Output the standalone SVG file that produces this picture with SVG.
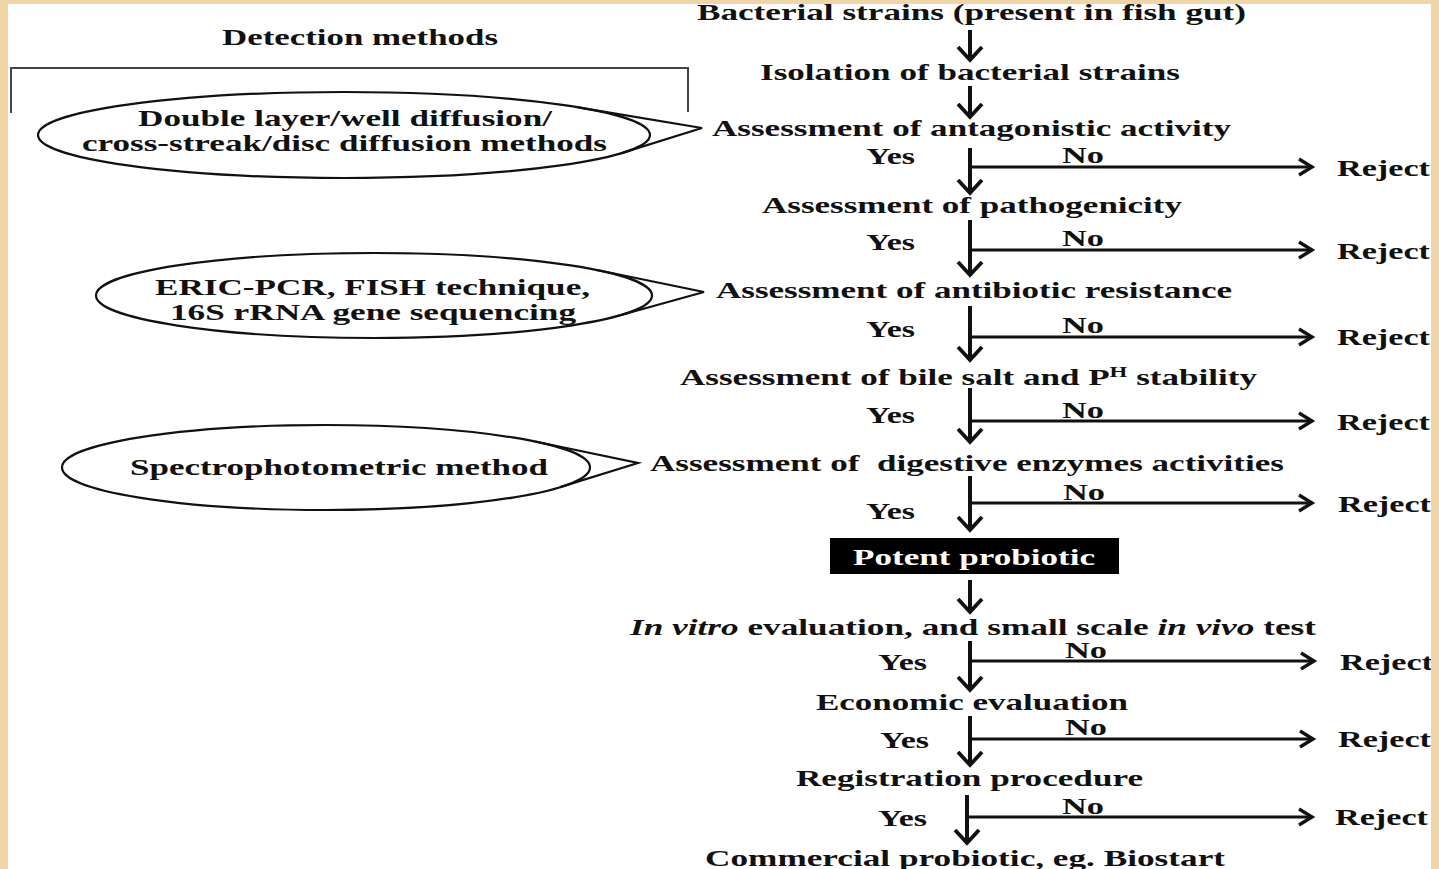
<svg xmlns="http://www.w3.org/2000/svg" width="1439" height="869" viewBox="0 0 1439 869">
<defs>
<style>
text{font-family:"Liberation Serif","Times New Roman",serif;font-weight:bold;font-size:23px;fill:#111}
.it{font-style:italic}
.ell{fill:none;stroke:#111;stroke-width:2.2}
.br{fill:none;stroke:#444;stroke-width:2}
.v{stroke:#111;stroke-width:4;fill:none}
.h{stroke:#111;stroke-width:3;fill:none}
.frame{fill:#EFD5A7}
</style>
<marker id="hv" markerUnits="userSpaceOnUse" markerWidth="30" markerHeight="30" refX="14" refY="15" orient="auto">
<path d="M1,3 L14,15 L1,27" fill="none" stroke="#111" stroke-width="3.8"/>
</marker>
<marker id="hh" markerUnits="userSpaceOnUse" markerWidth="30" markerHeight="30" refX="14" refY="15" orient="auto">
<path d="M1,7 L14,15 L1,23" fill="none" stroke="#111" stroke-width="3.4"/>
</marker>
</defs>
<rect x="0" y="0" width="1439" height="869" fill="#fff"/>

<g id="detection-methods">
<text x="222" y="45" textLength="276" lengthAdjust="spacingAndGlyphs">Detection methods</text>
<path class="br" d="M11,113 L11,68 L688,68 L688,112"/>
</g>

<g id="method-diffusion">
<ellipse class="ell" cx="344" cy="135" rx="306" ry="43"/>
<path class="ell" d="M578,107.3 L702,128 L623,152.6"/>
<text x="138" y="126" textLength="414" lengthAdjust="spacingAndGlyphs">Double layer/well diffusion/</text>
<text x="82" y="151" textLength="525" lengthAdjust="spacingAndGlyphs">cross-streak/disc diffusion methods</text>
</g>

<g id="method-molecular">
<ellipse class="ell" cx="374" cy="295.5" rx="278" ry="42.5"/>
<path class="ell" d="M597,270 L704,292 L617.5,316"/>
<text x="155" y="295" textLength="435" lengthAdjust="spacingAndGlyphs">ERIC-PCR, FISH technique,</text>
<text x="170" y="320" textLength="406" lengthAdjust="spacingAndGlyphs">16S rRNA gene sequencing</text>
</g>

<g id="method-spectro">
<ellipse class="ell" cx="326" cy="467.5" rx="264" ry="42.5"/>
<path class="ell" d="M535,441.5 L638,463 L560,487.1"/>
<text x="130" y="475" textLength="418" lengthAdjust="spacingAndGlyphs">Spectrophotometric method</text>
</g>

<g id="n-bacterial"><text x="697" y="20" textLength="549" lengthAdjust="spacingAndGlyphs">Bacterial strains (present in fish gut)</text></g>
<g id="n-isolation"><text x="760" y="80" textLength="420" lengthAdjust="spacingAndGlyphs">Isolation of bacterial strains</text></g>
<g id="n-antagonistic"><text x="712" y="136" textLength="519" lengthAdjust="spacingAndGlyphs">Assessment of antagonistic activity</text></g>
<g id="n-pathogenicity"><text x="762" y="213" textLength="420" lengthAdjust="spacingAndGlyphs">Assessment of pathogenicity</text></g>
<g id="n-antibiotic"><text x="716" y="298" textLength="516" lengthAdjust="spacingAndGlyphs">Assessment of antibiotic resistance</text></g>
<g id="n-bile"><text x="680" y="385" textLength="577" lengthAdjust="spacingAndGlyphs">Assessment of bile salt and P<tspan font-size="15" dy="-8">H</tspan><tspan dy="8"> stability</tspan></text></g>
<g id="n-digestive"><text x="650" y="471" textLength="634" lengthAdjust="spacingAndGlyphs" xml:space="preserve">Assessment of  digestive enzymes activities</text></g>
<g id="n-potent">
<rect x="830" y="538" width="289" height="36" fill="#000"/>
<text x="853" y="565" textLength="242" lengthAdjust="spacingAndGlyphs" style="fill:#fff">Potent probiotic</text>
</g>
<g id="n-invitro"><text x="630" y="635" textLength="686" lengthAdjust="spacingAndGlyphs"><tspan class="it">In vitro</tspan> evaluation, and small scale <tspan class="it">in vivo</tspan> test</text></g>
<g id="n-economic"><text x="816" y="710" textLength="312" lengthAdjust="spacingAndGlyphs">Economic evaluation</text></g>
<g id="n-registration"><text x="796" y="786" textLength="347" lengthAdjust="spacingAndGlyphs">Registration procedure</text></g>
<g id="n-commercial"><text x="705" y="866" textLength="520" lengthAdjust="spacingAndGlyphs">Commercial probiotic, eg. Biostart</text></g>

<g id="labels">
<text x="866" y="164" textLength="49" lengthAdjust="spacingAndGlyphs">Yes</text>
<text x="1062" y="163" textLength="42" lengthAdjust="spacingAndGlyphs">No</text>
<text x="1337" y="176" textLength="93" lengthAdjust="spacingAndGlyphs">Reject</text>
<text x="866" y="250" textLength="49" lengthAdjust="spacingAndGlyphs">Yes</text>
<text x="1062" y="246" textLength="42" lengthAdjust="spacingAndGlyphs">No</text>
<text x="1337" y="259" textLength="93" lengthAdjust="spacingAndGlyphs">Reject</text>
<text x="866" y="337" textLength="49" lengthAdjust="spacingAndGlyphs">Yes</text>
<text x="1062" y="333" textLength="42" lengthAdjust="spacingAndGlyphs">No</text>
<text x="1337" y="345" textLength="93" lengthAdjust="spacingAndGlyphs">Reject</text>
<text x="866" y="423" textLength="49" lengthAdjust="spacingAndGlyphs">Yes</text>
<text x="1062" y="418" textLength="42" lengthAdjust="spacingAndGlyphs">No</text>
<text x="1337" y="430" textLength="93" lengthAdjust="spacingAndGlyphs">Reject</text>
<text x="866" y="519" textLength="49" lengthAdjust="spacingAndGlyphs">Yes</text>
<text x="1063" y="500" textLength="42" lengthAdjust="spacingAndGlyphs">No</text>
<text x="1338" y="512" textLength="93" lengthAdjust="spacingAndGlyphs">Reject</text>
<text x="878" y="670" textLength="49" lengthAdjust="spacingAndGlyphs">Yes</text>
<text x="1065" y="658" textLength="42" lengthAdjust="spacingAndGlyphs">No</text>
<text x="1340" y="670" textLength="93" lengthAdjust="spacingAndGlyphs">Reject</text>
<text x="880" y="748" textLength="49" lengthAdjust="spacingAndGlyphs">Yes</text>
<text x="1065" y="735" textLength="42" lengthAdjust="spacingAndGlyphs">No</text>
<text x="1338" y="747" textLength="93" lengthAdjust="spacingAndGlyphs">Reject</text>
<text x="878" y="826" textLength="49" lengthAdjust="spacingAndGlyphs">Yes</text>
<text x="1062" y="814" textLength="42" lengthAdjust="spacingAndGlyphs">No</text>
<text x="1335" y="825" textLength="93" lengthAdjust="spacingAndGlyphs">Reject</text>
</g>

<g id="connectors">
<line class="v" x1="970" y1="30" x2="970" y2="60" marker-end="url(#hv)"/>
<line class="v" x1="970" y1="86" x2="970" y2="117" marker-end="url(#hv)"/>
<line class="v" x1="970" y1="148" x2="970" y2="193" marker-end="url(#hv)"/>
<line class="v" x1="970" y1="220" x2="970" y2="275" marker-end="url(#hv)"/>
<line class="v" x1="970" y1="306" x2="970" y2="360" marker-end="url(#hv)"/>
<line class="v" x1="970" y1="388" x2="970" y2="442" marker-end="url(#hv)"/>
<line class="v" x1="970" y1="476" x2="970" y2="530" marker-end="url(#hv)"/>
<line class="v" x1="970" y1="580" x2="970" y2="612" marker-end="url(#hv)"/>
<line class="v" x1="970" y1="641" x2="970" y2="690" marker-end="url(#hv)"/>
<line class="v" x1="970" y1="716" x2="970" y2="765" marker-end="url(#hv)"/>
<line class="v" x1="967" y1="795" x2="967" y2="843" marker-end="url(#hv)"/>
<line class="h" x1="970" y1="167" x2="1312" y2="167" marker-end="url(#hh)"/>
<line class="h" x1="970" y1="250" x2="1312" y2="250" marker-end="url(#hh)"/>
<line class="h" x1="970" y1="337" x2="1312" y2="337" marker-end="url(#hh)"/>
<line class="h" x1="970" y1="421" x2="1312" y2="421" marker-end="url(#hh)"/>
<line class="h" x1="970" y1="503" x2="1312" y2="503" marker-end="url(#hh)"/>
<line class="h" x1="970" y1="661" x2="1314" y2="661" marker-end="url(#hh)"/>
<line class="h" x1="970" y1="739" x2="1313" y2="739" marker-end="url(#hh)"/>
<line class="h" x1="967" y1="817" x2="1312" y2="817" marker-end="url(#hh)"/>
</g>

<g id="frame">
<rect class="frame" x="0" y="0" width="1439" height="4"/>
<rect class="frame" x="0" y="0" width="8" height="869"/>
<rect class="frame" x="1431" y="0" width="8" height="869"/>
</g>
</svg>
